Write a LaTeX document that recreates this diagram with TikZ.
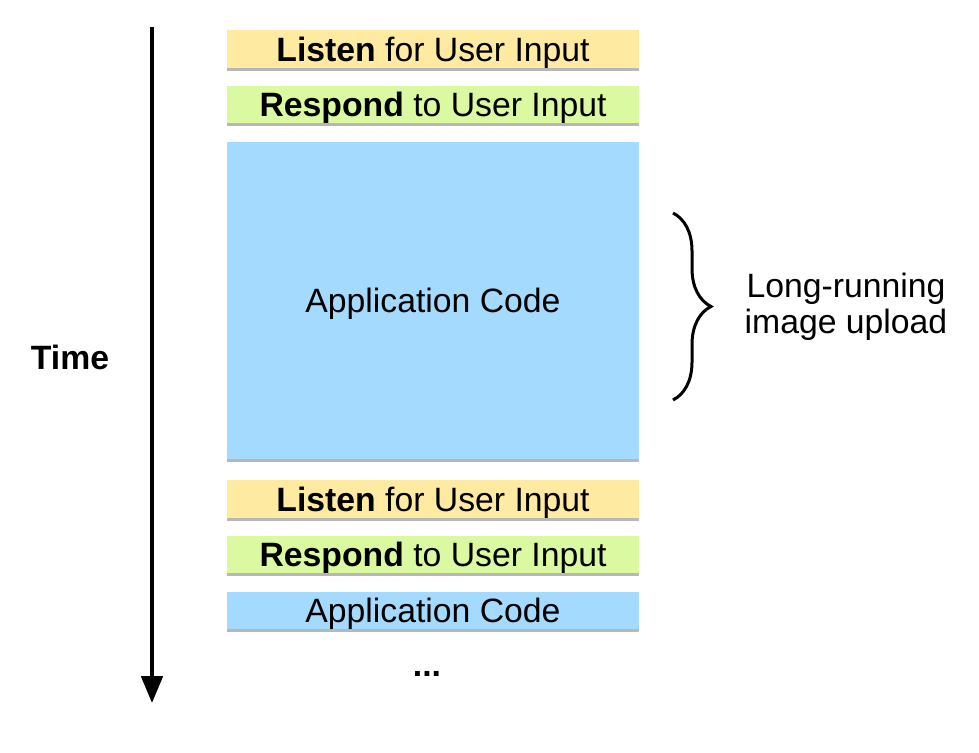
\documentclass[tikz,border=0pt]{standalone}
\usepackage{fontspec}
\setmainfont{Liberation Sans}
\usetikzlibrary{arrows.meta,shadows,decorations.pathreplacing}
\definecolor{listencol}{RGB}{255,234,161}
\definecolor{respondcol}{RGB}{218,249,160}
\definecolor{appcol}{RGB}{164,218,253}
\tikzset{
    stagebox/.style={minimum width=10.3cm,inner sep=0pt,text depth=0pt,
        drop shadow={shadow xshift=0pt,shadow yshift=-0.07cm,opacity=0.4,fill=black!70}},
}

\begin{document}
\begin{tikzpicture}[x=0.025cm,y=-0.025cm,font=\fontsize{24pt}{25.6pt}\selectfont]
            \useasboundingbox (0,0) rectangle (979,752);
            % time axis
            \coordinate (tstart) at (152,27);
            \coordinate (tend) at (152,703);
            \draw[line width=0.1cm,-{Triangle[width=0.53cm,length=0.67cm]}] (tstart)--(tend);
            \node (time) at (70,357) {\textbf{Time}};
            % first round
            \node[stagebox,fill=listencol,minimum height=0.95cm] (listen1) at (433,49) {\textbf{Listen} for User Input};
            \node[stagebox,fill=respondcol,minimum height=0.93cm] (respond1) at (433,104.5) {\textbf{Respond} to User Input};
            \node[stagebox,fill=appcol,minimum height=7.93cm] (app1) at (433,300.5) {Application Code};
            % second round
            \node[stagebox,fill=listencol,minimum height=0.95cm] (listen2) at (433,499) {\textbf{Listen} for User Input};
            \node[stagebox,fill=respondcol,minimum height=0.93cm] (respond2) at (433,554.5) {\textbf{Respond} to User Input};
            \node[stagebox,fill=appcol,minimum height=0.93cm] (app2) at (433,610.5) {Application Code};
            \node (more) at (427,674) {\textbf{...}};
            % brace
            \coordinate (btop) at (673,213);
            \coordinate (bbot) at (673,400);
            \draw[line width=0.075cm,decorate,decoration={brace,amplitude=0.95cm}] (btop)--(bbot);
            \node[align=center] (upload) at (846,307) {Long-running\\image upload};
        \end{tikzpicture}
\end{document}
